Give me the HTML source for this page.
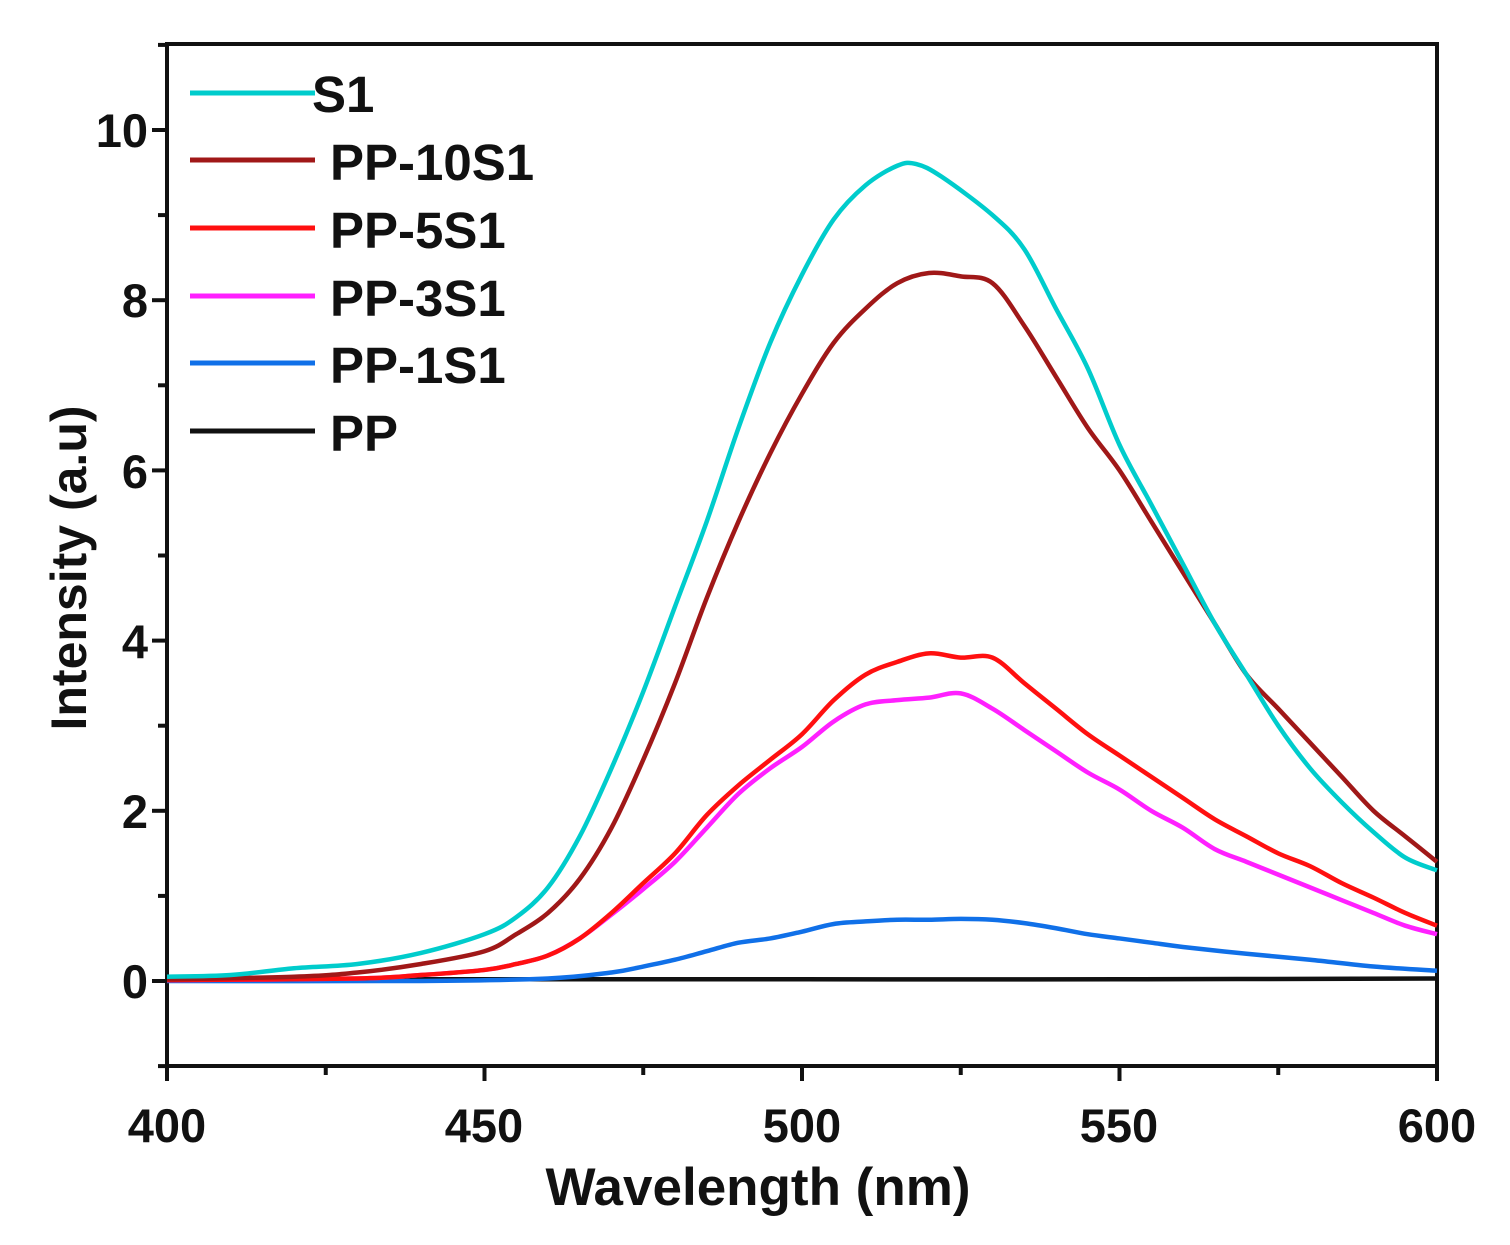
<!DOCTYPE html><html><head><meta charset="utf-8"><style>body{margin:0;background:#fff}svg{display:block}text{font-family:"Liberation Sans",Arial,sans-serif;font-weight:bold;fill:#111}</style></head><body>
<svg id="s" width="1510" height="1245" xmlns="http://www.w3.org/2000/svg">
<g stroke="#111" stroke-width="4" fill="none">
<rect x="167" y="44" width="1270" height="1022"/>
</g>
<g id="ticks" stroke="#111" stroke-width="4"></g>
<g font-size="47" text-anchor="end">
<text x="148" y="147">10</text><text x="148" y="317">8</text><text x="148" y="488">6</text><text x="148" y="658">4</text><text x="148" y="828">2</text><text x="148" y="998">0</text>
</g>
<g font-size="47" text-anchor="middle">
<text x="167" y="1142">400</text><text x="484" y="1142">450</text><text x="802" y="1142">500</text><text x="1119" y="1142">550</text><text x="1437" y="1142">600</text>
</g>
<text x="758" y="1205" font-size="53" text-anchor="middle">Wavelength (nm)</text>
<text transform="translate(86,568) rotate(-90)" font-size="50" text-anchor="middle">Intensity (a.u)</text>
<g id="curves" fill="none" stroke-width="4.5" stroke-linejoin="round"></g>
<g stroke-width="5">
<line x1="190" y1="93" x2="315" y2="93" stroke="#00cccc"/>
<line x1="190" y1="160" x2="315" y2="160" stroke="#a01818"/>
<line x1="190" y1="228" x2="315" y2="228" stroke="#ff1010"/>
<line x1="190" y1="296" x2="315" y2="296" stroke="#ff20ff"/>
<line x1="190" y1="363" x2="315" y2="363" stroke="#1070e8"/>
<line x1="190" y1="431" x2="315" y2="431" stroke="#111"/>
</g>
<g font-size="51">
<text x="312" y="112">S1</text><text x="330" y="180">PP-10S1</text><text x="330" y="248">PP-5S1</text><text x="330" y="316">PP-3S1</text><text x="330" y="383">PP-1S1</text><text x="330" y="451">PP</text>
</g>
</svg>
<script>
var ns="http://www.w3.org/2000/svg";
function X(w){return 167+(w-400)*6.35}function Y(i){return 981-i*85.1}
var t=document.getElementById('ticks'),h='';
for(var w=400;w<=600;w+=25){var L=(w%50==0)?15:9;h+='<line x1="'+X(w)+'" y1="1066" x2="'+X(w)+'" y2="'+(1066+L)+'"/>';}
for(var i=-1;i<=11;i++){var L=(i%2==0)?15:9;h+='<line x1="167" y1="'+Y(i)+'" x2="'+(167-L)+'" y2="'+Y(i)+'"/>';}
t.innerHTML=h;
var D=[
["#111",[400,.02,450,.02,500,.02,550,.02,600,.03]],
["#1070e8",[400,0,440,0,460,.03,470,.1,475,.17,480,.25,485,.35,490,.45,495,.5,500,.58,505,.67,510,.7,515,.72,520,.72,525,.73,530,.72,535,.68,540,.62,545,.55,550,.5,555,.45,560,.4,570,.32,580,.25,590,.17,600,.12]],
["#ff20ff",[400,.01,430,.03,440,.07,450,.13,455,.2,460,.3,465,.5,470,.78,475,1.08,480,1.4,485,1.8,490,2.2,495,2.5,500,2.75,505,3.05,510,3.25,515,3.3,520,3.33,525,3.38,530,3.2,535,2.95,540,2.7,545,2.45,550,2.25,555,2.0,560,1.8,565,1.55,570,1.4,575,1.25,580,1.1,585,.95,590,.8,595,.65,600,.55]],
["#ff1010",[400,.01,430,.03,440,.07,450,.13,455,.2,460,.3,465,.5,470,.8,475,1.15,480,1.5,485,1.95,490,2.3,495,2.6,500,2.9,505,3.3,510,3.6,515,3.75,520,3.85,525,3.8,530,3.8,535,3.5,540,3.2,545,2.9,550,2.65,555,2.4,560,2.15,565,1.9,570,1.7,575,1.5,580,1.35,585,1.15,590,.98,595,.8,600,.65]],
["#a01818",[400,.02,420,.05,430,.1,440,.2,450,.35,455,.55,460,.8,465,1.2,470,1.8,475,2.6,480,3.5,485,4.5,490,5.4,495,6.2,500,6.9,505,7.5,510,7.9,515,8.2,520,8.32,525,8.28,530,8.2,535,7.7,540,7.1,545,6.5,550,6.0,555,5.4,560,4.8,565,4.2,570,3.6,575,3.2,580,2.8,585,2.4,590,2.0,595,1.7,600,1.4]],
["#00cccc",[400,.05,410,.07,420,.15,430,.2,440,.33,450,.55,455,.75,460,1.1,465,1.7,470,2.5,475,3.4,480,4.4,485,5.4,490,6.5,495,7.5,500,8.3,505,8.95,510,9.35,515,9.58,518,9.6,522,9.45,530,9.0,535,8.6,540,7.9,545,7.2,550,6.3,555,5.6,560,4.9,565,4.2,570,3.6,575,3.0,580,2.5,585,2.1,590,1.75,595,1.45,600,1.3]]];
var g=document.getElementById('curves');
D.forEach(function(d){var a=d[1],p=[];for(var k=0;k<a.length;k+=2)p.push([X(a[k]),Y(a[k+1])]);
var s='M'+p[0][0]+','+p[0][1];
for(var k=0;k<p.length-1;k++){var p0=p[k-1]||p[k],p1=p[k],p2=p[k+1],p3=p[k+2]||p2;
s+=' C'+(p1[0]+(p2[0]-p0[0])/6)+','+(p1[1]+(p2[1]-p0[1])/6)+' '+(p2[0]-(p3[0]-p1[0])/6)+','+(p2[1]-(p3[1]-p1[1])/6)+' '+p2[0]+','+p2[1];}
var e=document.createElementNS(ns,'path');e.setAttribute('d',s);e.setAttribute('stroke',d[0]);g.appendChild(e);});
</script>
</body></html>
